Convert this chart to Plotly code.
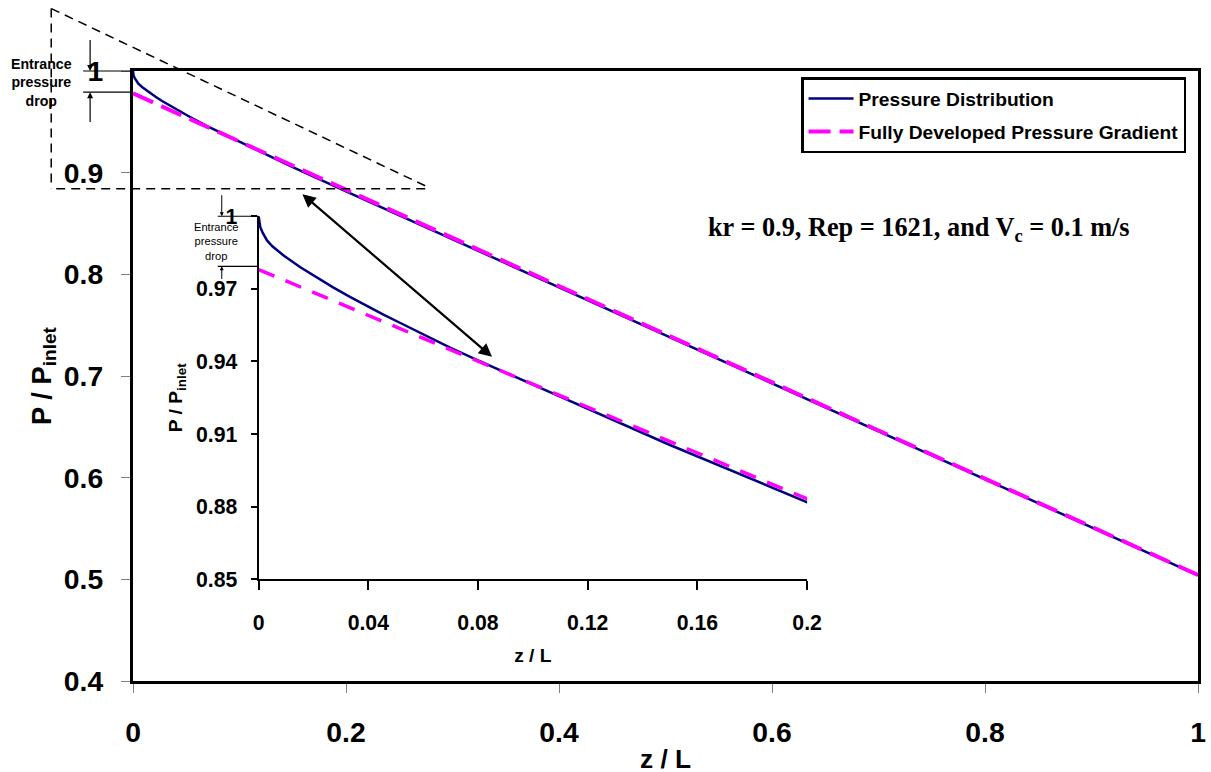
import plotly.graph_objects as go

# ---------------- data ----------------
z_dist = [0, 0.0002, 0.0006, 0.0015, 0.00305, 0.005, 0.0091, 0.0152, 0.0212, 0.0273, 0.0333, 0.0394, 0.0455,
          0.0515, 0.0576, 0.0636, 0.07, 0.08, 0.1, 0.15, 0.2, 0.4, 0.6, 0.8, 1.0]
p_dist = [1.0, 0.9978, 0.9955, 0.9931, 0.9900, 0.9876, 0.9838, 0.9789, 0.9747, 0.9705, 0.9667, 0.9629, 0.9594,
          0.9560, 0.9525, 0.9490, 0.9456, 0.9405, 0.9304, 0.9055, 0.8817, 0.7873, 0.693, 0.5986, 0.504]
z_fd = [0, 1.0]
p_fd = [0.978, 0.5043]

main_xticks = [0, 0.2, 0.4, 0.6, 0.8, 1]
main_xlabels = ["0", "0.2", "0.4", "0.6", "0.8", "1"]
main_yticks = [0.4, 0.5, 0.6, 0.7, 0.8, 0.9, 1.0]
main_ylabels = ["0.4", "0.5", "0.6", "0.7", "0.8", "0.9", "1"]
inset_xticks = [0, 0.04, 0.08, 0.12, 0.16, 0.2]
inset_xlabels = ["0", "0.04", "0.08", "0.12", "0.16", "0.2"]
inset_yticks = [0.85, 0.88, 0.91, 0.94, 0.97, 1.0]
inset_ylabels = ["0.85", "0.88", "0.91", "0.94", "0.97", "1"]

# ---------------- layout helpers ----------------
# the capture shrinks the page slightly; pre-compensate
SX, SY = 1.011, 1.012
SF = (SX + SY) / 2

W, H = 1211, 772
L, R, T, B = 132, 1200, 70, 676


def s(v):
    return v * SF


def si(v):
    return int(round(v * SF))


def px(x, y):
    return (x - L) / (R - L), (B - y) / (B - T)


FONT = "Liberation Sans, Arial, sans-serif"
NAVY = "#000080"
MAG = "#FF00FF"

fig = go.Figure()

# main traces
fig.add_trace(go.Scatter(x=z_dist, y=p_dist, mode="lines", name="Pressure Distribution", legendgroup="a",
                         line=dict(color=NAVY, width=2.5), xaxis="x", yaxis="y"))
fig.add_trace(go.Scatter(x=z_fd, y=p_fd, mode="lines", name="Fully Developed Pressure Gradient", legendgroup="b",
                         line=dict(color=MAG, width=4, dash="22px,9px"), xaxis="x", yaxis="y"))
# inset traces
fig.add_trace(go.Scatter(x=z_dist, y=p_dist, mode="lines", showlegend=False,
                         line=dict(color=NAVY, width=2.5), xaxis="x2", yaxis="y2"))
fig.add_trace(go.Scatter(x=z_fd, y=p_fd, mode="lines", showlegend=False,
                         line=dict(color=MAG, width=3.5, dash="17px,12px"), xaxis="x2", yaxis="y2"))

ix0, iy0 = px(258, 575)
ix1, iy1 = px(808, 214.3)

fig.update_layout(
    width=round(W * SX), height=round(H * SY), autosize=False,
    margin=dict(l=L * SX, r=(W - R) * SX, t=T * SY, b=(H - B) * SY, pad=0),
    paper_bgcolor="white", plot_bgcolor="rgba(0,0,0,0)",
    font=dict(family=FONT, color="black"),
    xaxis=dict(domain=[0, 1], range=[0, 1], tickvals=main_xticks, ticktext=main_xlabels,
               showgrid=False, zeroline=False, showline=True, linecolor="black", linewidth=3, mirror=True,
               ticks="outside", ticklen=s(9), tickcolor="#808080", tickwidth=1,
               tickfont=dict(size=s(28), family=FONT, weight="bold"), ticklabelstandoff=si(15),
               title=dict(text="<b>z / L</b>", font=dict(size=s(26), family=FONT), standoff=s(3))),
    yaxis=dict(domain=[0, 1], range=[0.4, 1], tickvals=main_yticks, ticktext=main_ylabels,
               showgrid=False, zeroline=False, showline=True, linecolor="black", linewidth=3, mirror=True,
               ticks="outside", ticklen=s(9), tickcolor="#808080", tickwidth=1,
               tickfont=dict(size=s(28), family=FONT, weight="bold"), ticklabelstandoff=si(12),
               title=dict(text="<b>P / P<sub>inlet</sub></b>", font=dict(size=s(27), family=FONT), standoff=s(5))),
    xaxis2=dict(domain=[ix0, ix1], range=[0, 0.2], anchor="y2", tickvals=inset_xticks, ticktext=inset_xlabels,
                showgrid=False, zeroline=False, showline=True, linecolor="black", linewidth=2,
                ticks="outside", ticklen=s(9), tickcolor="black", tickwidth=1.5,
                tickfont=dict(size=s(21), family=FONT, weight="bold"), ticklabelstandoff=si(14),
                title=dict(text="<b>z / L</b>", font=dict(size=s(19), family=FONT), standoff=s(14))),
    yaxis2=dict(domain=[iy0, iy1], range=[0.85, 1], anchor="x2", tickvals=inset_yticks, ticktext=inset_ylabels,
                showgrid=False, zeroline=False, showline=True, linecolor="black", linewidth=2,
                ticks="outside", ticklen=s(6), tickcolor="black", tickwidth=1.5,
                tickfont=dict(size=s(21), family=FONT, weight="bold"), ticklabelstandoff=si(9),
                title=dict(text="<b>P / P<sub>inlet</sub></b>", font=dict(size=s(19), family=FONT), standoff=s(8))),
    legend=dict(x=px(1188, 0)[0], y=px(0, 76)[1], xanchor="right", yanchor="top",
                bgcolor="white", bordercolor="black", borderwidth=2.5,
                font=dict(size=s(19), family=FONT, weight="bold", color="black"),
                tracegroupgap=si(5), itemwidth=45),
    showlegend=True,
)

shapes = []


def seg(x0, y0, x1, y1, dash="solid", width=1.2):
    a0, b0 = px(x0, y0)
    a1, b1 = px(x1, y1)
    shapes.append(dict(type="line", xref="paper", yref="paper", x0=a0, y0=b0, x1=a1, y1=b1,
                       line=dict(color="black", width=width, dash=dash), layer="above"))


# dashed triangle (zoom indicator)
seg(50, 8, 50, 187, dash="9px,6px", width=1.5)
seg(55, 187, 427, 187, dash="9px,6px", width=1.5)
seg(50, 8, 425, 184, dash="9px,6px", width=1.5)
# entrance pressure drop guide lines (main)
seg(82, 70, 132, 70)
seg(82, 91, 132, 91)
# entrance pressure drop guide lines (inset)
seg(217, 214.3, 258, 214.3)
seg(217, 264, 258, 264)
fig.update_layout(shapes=shapes)

annotations = []


def arrow(hx, hy, tx, ty, width=1.2, size=1.0, both=False):
    x, y = px(hx, hy)
    annotations.append(dict(x=x, y=y, xref="paper", yref="paper", ax=(tx - hx) * SX, ay=(ty - hy) * SY,
                            axref="pixel", ayref="pixel", showarrow=True, text="",
                            arrowhead=2, arrowsize=size, arrowwidth=width, arrowcolor="black",
                            arrowside="end+start" if both else "end"))


def text(x, y, txt, size, family=FONT, anchor="center"):
    a, b = px(x, y)
    annotations.append(dict(x=a, y=b, xref="paper", yref="paper", text=txt, showarrow=False,
                            xanchor=anchor, yanchor="middle", align="center",
                            font=dict(size=s(size), family=family, color="black")))


arrow(89, 70, 89, 38)
arrow(89, 91, 89, 122)
arrow(221, 214.3, 221, 192, width=1, size=0.8)
arrow(221, 264, 221, 278, width=1, size=0.8)
arrow(492, 354, 303, 192, width=2.2, size=1.2, both=True)

text(40, 81, "<b>Entrance<br>pressure<br>drop</b>", 14)
text(215, 239, "Entrance<br>pressure<br>drop", 11)
text(707, 227, "<b>kr = 0.9, Rep = 1621, and V<sub>c</sub> = 0.1 m/s</b>", 26,
     family="Liberation Serif, Times New Roman, serif", anchor="left")

fig.update_layout(annotations=annotations)

fig.write_html("out.html",
               config={"displayModeBar": False, "responsive": False},
               post_script="document.body.style.margin='0';document.body.style.padding='0';"
                           "document.body.style.overflow='hidden';")
